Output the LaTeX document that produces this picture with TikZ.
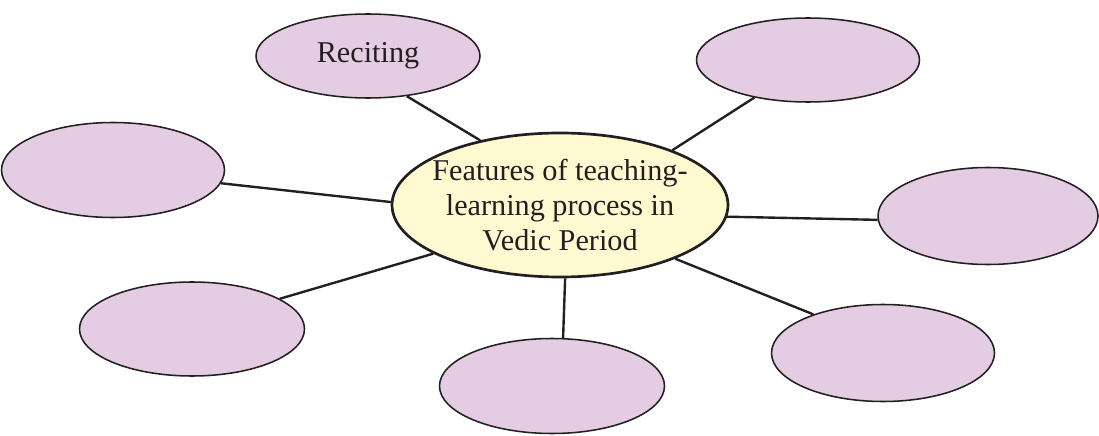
\documentclass[tikz,border=0pt]{standalone}
\usepackage{fontspec}
\setmainfont{Liberation Serif}
\usetikzlibrary{positioning,shapes.geometric}
\definecolor{Ink}{HTML}{231F20}
\definecolor{Lilac}{HTML}{E4CCE3}
\definecolor{Cream}{HTML}{FFF9D2}
\tikzset{
  idea bubble/.style={ellipse,draw=Ink,line width=1.1pt,fill=Lilac,
    minimum width=5.6cm,minimum height=2.3cm,inner sep=0pt,
    font=\fontsize{21.5}{24}\selectfont,text=Ink},
  topic bubble/.style={ellipse,draw=Ink,line width=1.9pt,fill=Cream,
    minimum width=8.4cm,minimum height=3.6cm,inner xsep=-0.45cm,inner ysep=0pt,
    align=center,font=\fontsize{21.5}{25}\selectfont,text=Ink},
  idea link/.style={line width=1.7pt,draw=Ink}
}
\begin{document}
\begin{tikzpicture}
  \useasboundingbox (0,0) rectangle (27.475,10.875);
  \node[topic bubble] (topic) at (14.0,5.75) {\raisebox{-3pt}{Features of teaching-}\\\raisebox{-3pt}{learning process in}\\\raisebox{-3pt}{Vedic Period}};
  \node[idea bubble,minimum height=2.1cm] (reciting) at (9.2,9.475) {\raisebox{4pt}{Reciting}};
  \node[idea bubble,minimum width=5.575cm,minimum height=2.1cm] (northeast) at (20.2,9.375) {};
  \node[idea bubble,minimum width=5.575cm,minimum height=2.375cm] (west) at (2.825,6.625) {};
  \node[idea bubble,minimum width=5.5cm,minimum height=2.425cm] (east) at (24.7,5.475) {};
  \node[idea bubble,minimum width=5.625cm,minimum height=2.35cm] (southwest) at (4.8,2.65) {};
  \node[idea bubble,minimum width=5.625cm,minimum height=2.375cm] (south) at (13.8,1.225) {};
  \node[idea bubble,minimum width=5.575cm,minimum height=2.425cm] (southeast) at (22.075,2.05) {};
  \draw[idea link] (reciting.-46) -- (topic.141);
  \draw[idea link] (northeast.215) -- (topic.26);
  \draw[idea link] (west.-7) -- (topic.179);
  \draw[idea link] (east.182) -- (topic.-4);
  \draw[idea link] (southwest.19) -- (topic.-159);
  \draw[idea link] (south.77) -- (topic.-86);
  \draw[idea link] (southeast.151) -- (topic.-25);
\end{tikzpicture}
\end{document}
